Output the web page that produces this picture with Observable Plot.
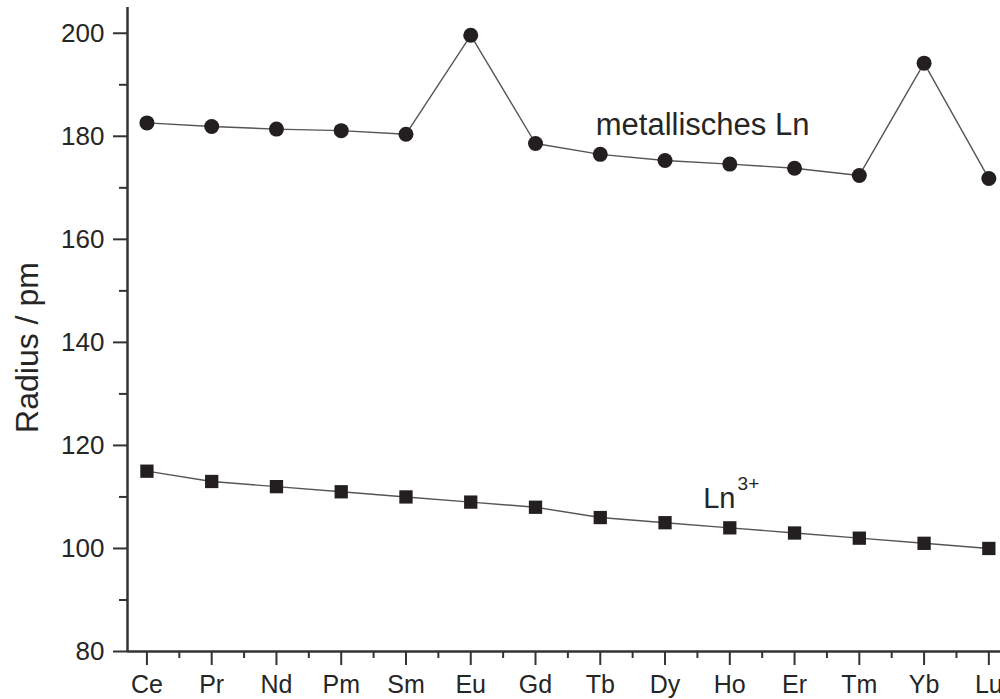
<!DOCTYPE html>
<html><head><meta charset="utf-8">
<script src="https://cdn.jsdelivr.net/npm/d3@7"></script>
<script src="https://cdn.jsdelivr.net/npm/@observablehq/plot@0.6"></script>
<style>body{margin:0;background:#fff} svg{display:block}</style>
</head><body><div id="chart"></div>
<script>
const elements = ["Ce","Pr","Nd","Pm","Sm","Eu","Gd","Tb","Dy","Ho","Er","Tm","Yb","Lu"];
const metallicRadius = [182.6, 181.9, 181.4, 181.1, 180.4, 199.6, 178.6, 176.5, 175.3, 174.6, 173.8, 172.4, 194.2, 171.8];
const ionRadius = [115, 113, 112, 111, 110, 109, 108, 106, 105, 104, 103, 102, 101, 100];
const yTicks = [80, 100, 120, 140, 160, 180, 200];
const yMinorTicks = [90, 110, 130, 150, 170, 190];
const yTitle = "Radius / pm";
const metalLabel = "metallisches Ln";
const ionLabel = "Ln";
const ionSup = "3+";

const rows = elements.map((el, i) => ({i, el, metal: metallicRadius[i], ion: ionRadius[i]}));
const xIdx = elements.map((_, i) => i);
const xMinor = elements.slice(1).map((_, i) => i + 0.5);

const ink = "#231f20";
const axisCol = "#333";
const font = "'Liberation Sans', Arial, Helvetica, sans-serif";

const chart = Plot.plot({
  width: 1000,
  height: 699,
  marginLeft: 127,
  marginRight: 0,
  marginTop: 7,
  marginBottom: 48,
  style: {fontFamily: font, fontSize: "26px", color: "#262626", background: "#fff"},
  x: {type: "linear", domain: [-0.3, 13.18]},
  y: {domain: [80, 205]},
  marks: [
    Plot.axisY(yTicks, {tickSize: 14, tickPadding: 9, strokeWidth: 2, stroke: axisCol, fontSize: 26, label: null}),
    Plot.axisY(yMinorTicks, {tickSize: 8, strokeWidth: 2, stroke: axisCol, tickFormat: () => "", label: null}),
    Plot.axisX(xIdx, {tickSize: 14, tickPadding: 10, strokeWidth: 2, stroke: axisCol, fontSize: 25, tickFormat: i => elements[i], label: null}),
    Plot.axisX(xMinor, {tickSize: 7, strokeWidth: 2, stroke: axisCol, tickFormat: () => "", label: null}),
    Plot.ruleX([-0.3], {stroke: axisCol, strokeWidth: 2.5}),
    Plot.ruleY([80], {stroke: axisCol, strokeWidth: 2.5}),
    Plot.text([yTitle], {frameAnchor: "left", y: () => 139, dx: -100, rotate: -90, fontSize: 32, textAnchor: "middle", lineAnchor: "middle", fill: "#262626"}),
    Plot.line(rows, {x: "i", y: "metal", stroke: "#555", strokeWidth: 1.4}),
    Plot.line(rows, {x: "i", y: "ion", stroke: "#555", strokeWidth: 1.4}),
    Plot.dot(rows, {x: "i", y: "metal", r: 7.5, fill: ink, stroke: "none", symbol: "circle"}),
    Plot.dot(rows, {x: "i", y: "ion", r: 7.5, fill: ink, stroke: "none", symbol: "square"}),
    Plot.text([metalLabel], {x: () => 6.93, y: () => 180.2, text: d => d, textAnchor: "start", lineAnchor: "bottom", fontSize: 31, fill: "#262626"}),
    Plot.text([ionLabel], {x: () => 8.59, y: () => 107.8, text: d => d, textAnchor: "start", lineAnchor: "bottom", fontSize: 29, fill: "#262626"}),
    Plot.text([ionSup], {x: () => 9.12, y: () => 111.3, text: d => d, textAnchor: "start", lineAnchor: "bottom", fontSize: 19, fill: "#262626"})
  ]
});
document.getElementById("chart").append(chart);
</script>
</body></html>
